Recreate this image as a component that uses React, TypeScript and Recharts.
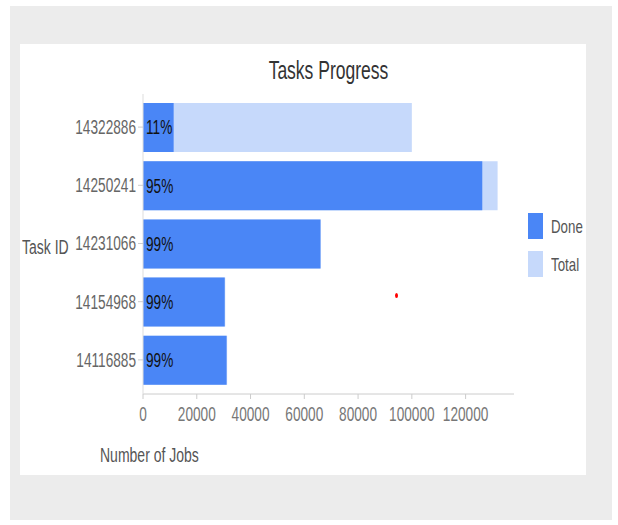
import { BarChart, Bar, XAxis, YAxis, LabelList } from "recharts";

const TASK_IDS = ["14322886", "14250241", "14231066", "14154968", "14116885"];
const DONE_JOBS = [11400, 126200, 66000, 30400, 31100];
const TOTAL_JOBS = [100000, 131900, 66200, 30600, 31300];
const X_TICKS = [0, 20000, 40000, 60000, 80000, 100000, 120000];

// no narrow font installed, so squeeze Liberation Sans horizontally
const FONT = "'Liberation Sans', Arial, sans-serif";
const SQUEEZE = 0.7;
const DONE_COLOR = "#4a86f6";
const TOTAL_COLOR = "#c6d9fb";

function YTick(props: any) {
  const { x, y, payload } = props;
  return (
    <g transform={`translate(${x},${y})`}>
      <text
        x={0}
        y={0}
        dy="0.355em"
        textAnchor="end"
        transform={`scale(${SQUEEZE},1)`}
        fill="#666"
        fontSize={19.5}
        fontFamily={FONT}
      >
        {payload.value}
      </text>
    </g>
  );
}

function XTick(props: any) {
  const { x, y, payload } = props;
  return (
    <g transform={`translate(${x},${y})`}>
      <text
        x={0}
        y={0}
        dy="0.71em"
        textAnchor="middle"
        transform={`scale(${SQUEEZE},1)`}
        fill="#777"
        fontSize={19.5}
        fontFamily={FONT}
      >
        {payload.value}
      </text>
    </g>
  );
}

function PctLabel(props: any) {
  const { x, y, height, value } = props;
  return (
    <g transform={`translate(${Number(x) + 3},${Number(y) + Number(height) / 2})`}>
      <text
        x={0}
        y={0}
        dy="0.355em"
        textAnchor="start"
        transform={`scale(${SQUEEZE},1)`}
        fill="#111"
        fontSize={19.5}
        fontFamily={FONT}
      >
        {value}
      </text>
    </g>
  );
}

function Squeezed({ text, size, color, origin = "left" }: any) {
  return (
    <span
      style={{
        display: "inline-block",
        whiteSpace: "nowrap",
        fontSize: size,
        color,
        transform: `scaleX(${SQUEEZE})`,
        transformOrigin: origin,
      }}
    >
      {text}
    </span>
  );
}

export default function App() {
  const data = TASK_IDS.map((id, i) => ({
    id,
    done: DONE_JOBS[i],
    total: TOTAL_JOBS[i],
    pct: `${Math.floor((DONE_JOBS[i] / TOTAL_JOBS[i]) * 100)}%`,
  }));

  return (
    <div
      style={{
        position: "absolute",
        left: 0,
        top: 0,
        width: 618,
        height: 525,
        fontFamily: FONT,
      }}
    >
      <div
        style={{
          position: "absolute",
          left: 10,
          top: 6,
          width: 602,
          height: 514,
          background: "#ececec",
        }}
      />
      <div
        style={{
          position: "absolute",
          left: 20,
          top: 44,
          width: 566,
          height: 431,
          background: "#ffffff",
        }}
      >
        <div
          style={{
            position: "absolute",
            left: 0,
            width: 617,
            top: 11,
            textAlign: "center",
            lineHeight: "30px",
          }}
        >
          <Squeezed text="Tasks Progress" size={25} color="#333" origin="center" />
        </div>
        <div style={{ position: "absolute", left: 2, top: 191, lineHeight: "24px" }}>
          <Squeezed text="Task ID" size={20} color="#555" />
        </div>
        <div style={{ position: "absolute", left: 80, top: 399, lineHeight: "24px" }}>
          <Squeezed text="Number of Jobs" size={20} color="#555" />
        </div>

        <BarChart
          width={566}
          height={431}
          data={data}
          layout="vertical"
          margin={{ top: 50, right: 72, left: 0, bottom: 51 }}
          barSize={49}
          barGap={-49}
          style={{ position: "absolute", left: 0, top: 0 }}
        >
          <XAxis
            type="number"
            domain={[0, 138000]}
            ticks={X_TICKS}
            height={30}
            tickSize={5}
            tickMargin={8}
            tick={<XTick />}
            axisLine={{ stroke: "#cccccc" }}
            tickLine={{ stroke: "#cccccc" }}
            allowDataOverflow
          />
          <YAxis
            type="category"
            dataKey="id"
            width={123}
            tickSize={5}
            tickMargin={2}
            padding={{ top: 4, bottom: 5 }}
            tick={<YTick />}
            axisLine={{ stroke: "#dddddd" }}
            tickLine={{ stroke: "#cccccc" }}
          />
          <Bar dataKey="total" name="Total" fill={TOTAL_COLOR} isAnimationActive={false} />
          <Bar dataKey="done" name="Done" fill={DONE_COLOR} isAnimationActive={false}>
            <LabelList dataKey="pct" content={<PctLabel />} />
          </Bar>
        </BarChart>

        {[
          { name: "Done", color: DONE_COLOR, top: 169 },
          { name: "Total", color: TOTAL_COLOR, top: 207 },
        ].map((item) => (
          <div key={item.name} style={{ position: "absolute", left: 508, top: item.top }}>
            <div
              style={{
                position: "absolute",
                left: 0,
                top: 0,
                width: 15,
                height: 26,
                background: item.color,
              }}
            />
            <div style={{ position: "absolute", left: 23, top: 3, lineHeight: "22px" }}>
              <Squeezed text={item.name} size={19} color="#555" />
            </div>
          </div>
        ))}
      </div>
      <div
        style={{
          position: "absolute",
          left: 395,
          top: 293,
          width: 3,
          height: 5,
          borderRadius: "50%",
          background: "#ff0000",
        }}
      />
    </div>
  );
}
